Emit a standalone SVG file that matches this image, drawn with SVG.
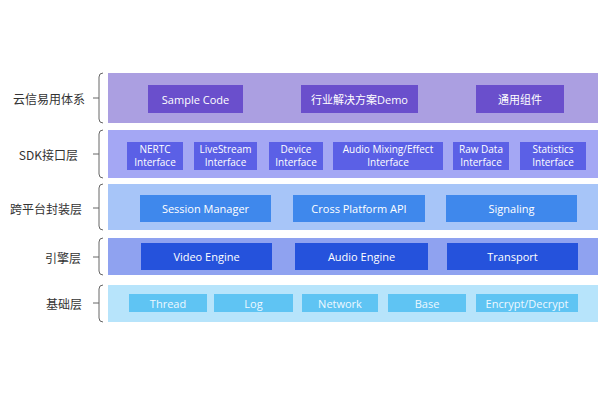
<svg xmlns="http://www.w3.org/2000/svg" width="600" height="400" viewBox="0 0 600 400">
<style>
.lbl{font-family:"Noto Sans CJK SC","Noto Sans",sans-serif;font-size:12px;fill:#333;text-anchor:end;dominant-baseline:central}
.t{font-family:"Open Sans","Noto Sans","Noto Sans CJK SC",sans-serif;font-size:11px;fill:#fff;text-anchor:middle;dominant-baseline:central}
.t2{font-family:"Open Sans","Noto Sans","Noto Sans CJK SC",sans-serif;font-size:10px;fill:#fff;text-anchor:middle}
.br{fill:none;stroke:#666;stroke-width:1}
.b1{fill:#ab9fe1}.n1{fill:#6a4fcc}
.b2{fill:#a4a7f4}.n2{fill:#5b60e6}
.b3{fill:#a7c5f8}.n3{fill:#3f88ec}
.b4{fill:#8fa2f0}.n4{fill:#2552dc}
.b5{fill:#b7e4fb}.n5{fill:#5fc4f3}
.t5{fill:#eef8ff}
</style>
<rect width="600" height="400" fill="#fff"/>
<g id="connectors">
<path class="br" d="M103,73 Q99,73 99,77 L99,119 Q99,123 103,123 M93,98 L99,98"/>
<path class="br" d="M103,130 Q99,130 99,134 L99,174 Q99,178 103,178 M93,154 L99,154"/>
<path class="br" d="M103,184 Q99,184 99,188 L99,226 Q99,230 103,230 M93,208 L99,208"/>
<path class="br" d="M103,238 Q99,238 99,242 L99,271 Q99,275 103,275 M93,257 L99,257"/>
<path class="br" d="M103,285 Q99,285 99,289 L99,318 Q99,322 103,322 M93,303 L99,303"/>
</g>
<g id="layer1">
<text class="lbl" x="85" y="98">云信易用体系</text>
<rect class="b1" x="108" y="73" width="490" height="50"/>
<g id="sample-code"><rect class="n1" x="148" y="85" width="95" height="28"/><text class="t" x="195.5" y="99">Sample Code</text></g>
<g id="demo"><rect class="n1" x="301" y="85" width="117" height="28"/><text class="t" x="359.5" y="99">行业解决方案Demo</text></g>
<g id="common"><rect class="n1" x="476" y="85" width="88" height="28"/><text class="t" x="520" y="99">通用组件</text></g>
</g>
<g id="layer2">
<text class="lbl" x="78" y="154">SDK接口层</text>
<rect class="b2" x="108" y="130" width="490" height="48"/>
<g id="nertc"><rect class="n2" x="127" y="142" width="56" height="28"/><text class="t2" x="155" y="153">NERTC</text><text class="t2" x="155" y="166">Interface</text></g>
<g id="livestream"><rect class="n2" x="194" y="142" width="63" height="28"/><text class="t2" x="225.5" y="153">LiveStream</text><text class="t2" x="225.5" y="166">Interface</text></g>
<g id="device"><rect class="n2" x="269" y="142" width="54" height="28"/><text class="t2" x="296" y="153">Device</text><text class="t2" x="296" y="166">Interface</text></g>
<g id="audio-mixing"><rect class="n2" x="333" y="142" width="110" height="28"/><text class="t2" x="388" y="153">Audio Mixing/Effect</text><text class="t2" x="388" y="166">Interface</text></g>
<g id="raw-data"><rect class="n2" x="453" y="142" width="56" height="28"/><text class="t2" x="481" y="153">Raw Data</text><text class="t2" x="481" y="166">Interface</text></g>
<g id="statistics"><rect class="n2" x="520" y="142" width="66" height="28"/><text class="t2" x="553" y="153">Statistics</text><text class="t2" x="553" y="166">Interface</text></g>
</g>
<g id="layer3">
<text class="lbl" x="82" y="208">跨平台封装层</text>
<rect class="b3" x="108" y="184" width="490" height="46"/>
<g id="session"><rect class="n3" x="140" y="195" width="131" height="27"/><text class="t" x="205.5" y="208.5">Session Manager</text></g>
<g id="cross"><rect class="n3" x="293" y="195" width="132" height="27"/><text class="t" x="359" y="208.5">Cross Platform API</text></g>
<g id="signaling"><rect class="n3" x="446" y="195" width="131" height="27"/><text class="t" x="511.5" y="208.5">Signaling</text></g>
</g>
<g id="layer4">
<text class="lbl" x="81" y="257">引擎层</text>
<rect class="b4" x="108" y="238" width="490" height="37"/>
<g id="video"><rect class="n4" x="141" y="243" width="131" height="27"/><text class="t" x="206.5" y="256.5">Video Engine</text></g>
<g id="audio"><rect class="n4" x="295" y="243" width="133" height="27"/><text class="t" x="361.5" y="256.5">Audio Engine</text></g>
<g id="transport"><rect class="n4" x="447" y="243" width="131" height="27"/><text class="t" x="512.5" y="256.5">Transport</text></g>
</g>
<g id="layer5">
<text class="lbl" x="82" y="303">基础层</text>
<rect class="b5" x="108" y="285" width="490" height="37"/>
<g id="thread"><rect class="n5" x="129" y="294" width="78" height="18"/><text class="t t5" x="168" y="303">Thread</text></g>
<g id="log"><rect class="n5" x="214" y="294" width="79" height="18"/><text class="t t5" x="253.5" y="303">Log</text></g>
<g id="network"><rect class="n5" x="302" y="294" width="76" height="18"/><text class="t t5" x="340" y="303">Network</text></g>
<g id="base"><rect class="n5" x="388" y="294" width="78" height="18"/><text class="t t5" x="427" y="303">Base</text></g>
<g id="encrypt"><rect class="n5" x="476" y="294" width="102" height="18"/><text class="t t5" x="527" y="303">Encrypt/Decrypt</text></g>
</g>
</svg>
